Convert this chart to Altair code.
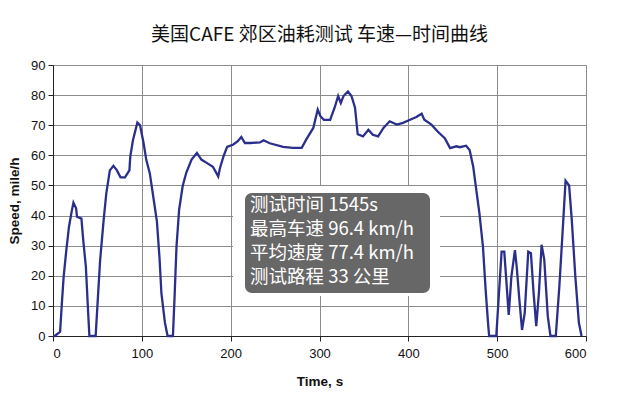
import altair as alt
import pandas as pd

time_s = [0, 2, 8, 10, 12, 15, 18, 21, 23, 26, 27, 32, 34, 37, 40, 41, 48, 50, 53, 57,
          60, 64, 68, 72, 76, 81, 86, 87, 90, 95, 98, 102, 105, 109, 113, 117, 120, 122, 126, 129,
          135, 137, 139, 142, 146, 150, 156, 162, 167, 173, 180, 186, 188, 192, 196, 203, 208, 212, 216, 222,
          233, 237, 244, 259, 270, 280, 285, 293, 298, 301, 305, 312, 317, 321, 324, 327, 332, 336, 340, 343,
          349, 355, 360, 366, 372, 379, 387, 394, 402, 409, 415, 418, 426, 433, 441, 447, 454, 458, 465, 469,
          473, 476, 480, 484, 487, 490, 491, 499, 502, 505, 508, 510, 513, 516, 520, 522, 525, 528, 531, 535,
          538, 541, 544, 547, 550, 553, 557, 560, 566, 570, 574, 577, 581, 584, 588, 592, 595]
speed_mph = [0, 0, 1.4, 11, 19.7, 28.5, 36.3, 41.3, 44.3, 42.4, 39.6, 39, 32, 23, 5.3, 0, 0, 10, 25, 38.5,
             47.4, 55, 56.5, 55, 52.7, 52.7, 55, 59.6, 65, 70.9, 70, 64, 58.5, 54, 46, 38, 25.5, 14.3, 4.4, 0,
             0, 14, 29.6, 42, 49.8, 54.2, 58.6, 60.8, 58.6, 57.5, 56.2, 53, 55.8, 59.7, 62.8, 63.6, 64.7, 66.1, 64.1, 64.1,
             64.3, 65, 64, 62.8, 62.5, 62.5, 65.2, 69.1, 75.2, 73, 71.8, 71.8, 75.8, 79.7, 77.4, 79.7, 81.2, 79.7, 75.8, 67,
             66.3, 68.5, 66.8, 66.3, 69.1, 71.3, 70.2, 70.8, 71.8, 72.7, 73.8, 71.8, 70.2, 67.9, 65.7, 62.4, 63, 62.7, 63.2, 61.8,
             56.3, 49.6, 40.8, 29.7, 15.4, 3.3, 0, 0, 14.1, 28, 28, 19.7, 7, 19.7, 28.5, 23, 12, 2, 7.6, 28,
             27.5, 14.3, 3.3, 14.3, 30.3, 25.4, 6.5, 0, 0, 16.5, 36.3, 51.6, 50, 38.5, 19.7, 4.4, 0]
x_ticks = [0, 100, 200, 300, 400, 500, 600]
y_ticks = [0, 10, 20, 30, 40, 50, 60, 70, 80, 90]
chart_title = "美国CAFE 郊区油耗测试 车速—时间曲线"
info_lines = ["测试时间 1545s", "最高车速 96.4 km/h", "平均速度 77.4 km/h", "测试路程 33 公里"]

df = pd.DataFrame({"t": time_s, "v": speed_mph})
one = pd.DataFrame({"a": [0]})

W, H = 533, 271
CJK = "Noto Sans CJK SC"

line = alt.Chart(df).mark_line(color="#2b2f8c", strokeWidth=2.3).encode(
    x=alt.X("t:Q", scale=alt.Scale(domain=[0, 600], nice=False),
            axis=alt.Axis(title="Time, s", values=x_ticks, labelPadding=6, titlePadding=14)),
    y=alt.Y("v:Q", scale=alt.Scale(domain=[0, 90], nice=False),
            axis=alt.Axis(title="Speed, mile/h", values=y_ticks, labelPadding=3, titlePadding=9)),
)

cover = alt.Chart(one).mark_rect(color="white").encode(
    x=alt.value(180), x2=alt.value(387), y=alt.value(121), y2=alt.value(231)
)
box = alt.Chart(one).mark_rect(color="#676767", cornerRadius=7).encode(
    x=alt.value(192), x2=alt.value(377), y=alt.value(128), y2=alt.value(228)
)
info = alt.Chart(one).mark_text(
    font=CJK, fontSize=18.5, color="white", align="left", baseline="top", lineHeight=24
).encode(x=alt.value(197), y=alt.value(131), text=alt.value(info_lines))

title = alt.Chart(one).mark_text(
    font=CJK, fontSize=19, color="#111111", align="center", baseline="middle"
).encode(x=alt.value(W / 2), y=alt.value(-30), text=alt.value(chart_title))

chart = alt.layer(cover, box, info, line, title).properties(
    width=W, height=H,
    autosize=alt.AutoSizeParams(type="none"),
    padding={"left": 45, "top": 57, "right": 30, "bottom": 62},
    background="white",
).configure_axis(
    labelFont="Liberation Sans", labelFontSize=13, labelColor="#111111",
    titleFont="Liberation Sans", titleFontSize=13.5, titleFontWeight="bold", titleColor="#111111",
    gridColor="#8c8c8c", gridWidth=1, domainColor="#222222", tickColor="#222222", tickSize=5,
).configure_view(strokeWidth=0)

chart.save("out.html", embed_options={"renderer": "svg", "actions": False})
